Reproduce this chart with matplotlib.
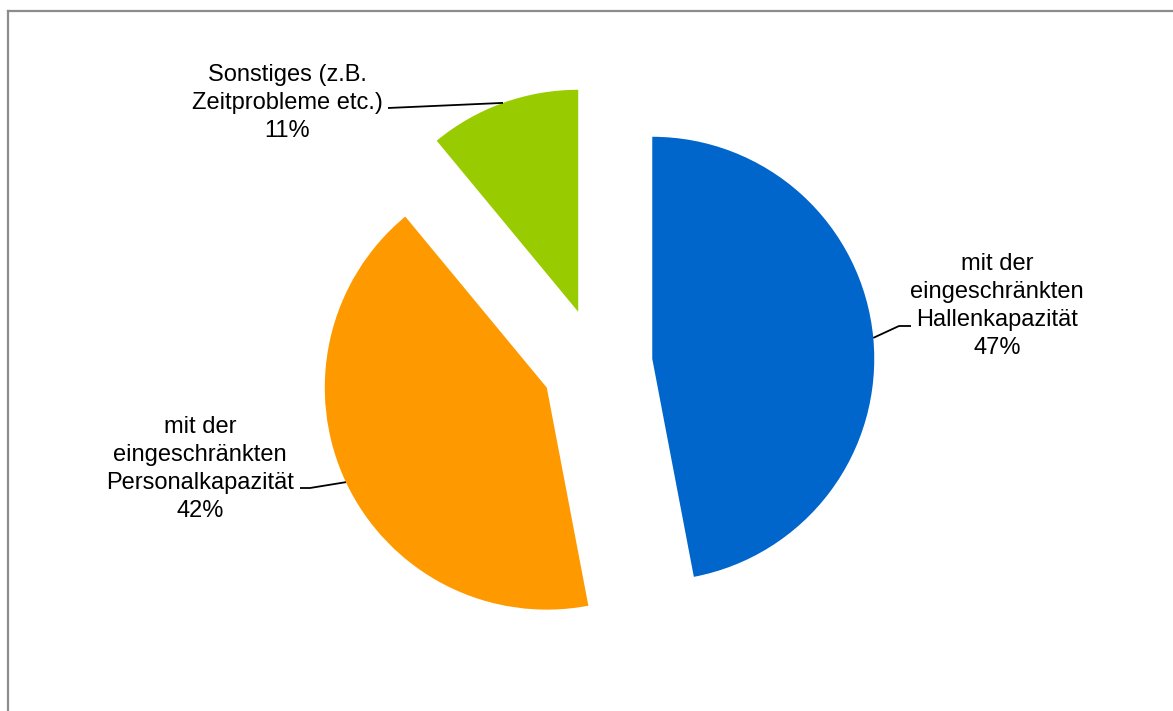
import matplotlib as mpl
import matplotlib.pyplot as plt
import numpy as np
from matplotlib.lines import Line2D

mpl.rcParams.update({
    "font.family": ["Liberation Sans", "DejaVu Sans"],
    "font.size": 17,
})

categories = [
    "mit der\neingeschränkten\nHallenkapazität",
    "mit der\neingeschränkten\nPersonalkapazität",
    "Sonstiges (z.B.\nZeitprobleme etc.)",
]
shares = [47, 42, 11]
colors = ["#0066CC", "#FF9900", "#99CC00"]

W, H = 1173, 711
CX, CY, R = 597, 364, 222  # pie centre and radius in pixels


def to_data(px, py):
    # pixel position (origin top-left) -> pie units (radius = 1)
    return (px - CX) / R, (CY - py) / R


fig = plt.figure(figsize=(W / 100, H / 100), dpi=100)
ax = fig.add_axes([0, 0, 1, 1])

wedges, _ = ax.pie(shares, colors=colors, startangle=90, counterclock=False,
                   explode=[0.25] * len(shares), radius=1,
                   wedgeprops=dict(linewidth=0))
ax.set_xlim(-CX / R, (W - CX) / R)
ax.set_ylim((CY - H) / R, CY / R)
ax.set_aspect("auto")
ax.axis("off")

# label text position, elbow and end of leader line (pixels)
label_layout = [
    dict(text=(997, 306), elbow=(899, 326), end=(911, 326)),
    dict(text=(200, 469), elbow=(310, 488), end=(300, 488)),
    dict(text=(287, 103), elbow=(388, 108), end=(388, 108)),
]

for w, name, val, lay in zip(wedges, categories, shares, label_layout):
    ang = np.deg2rad((w.theta1 + w.theta2) / 2)
    ax_x = w.center[0] + w.r * np.cos(ang)
    ax_y = w.center[1] + w.r * np.sin(ang)
    ex, ey = to_data(*lay["elbow"])
    nx, ny = to_data(*lay["end"])
    ax.plot([ax_x, ex, nx], [ax_y, ey, ny], color="black", lw=1.3,
            solid_capstyle="butt")
    tx, ty = to_data(*lay["text"])
    ax.text(tx, ty, f"{name}\n{val}%", ha="center", va="center",
            linespacing=1.35, color="black")

# chart area border (left and top edges visible)
fig.add_artist(Line2D([7.5 / W, 7.5 / W], [0, 1 - 11 / H], color="#8c8c8c",
                      lw=1.6, transform=fig.transFigure))
fig.add_artist(Line2D([7.5 / W, 1], [1 - 11 / H, 1 - 11 / H], color="#8c8c8c",
                      lw=1.6, transform=fig.transFigure))

fig.savefig("out.png", dpi=100)
